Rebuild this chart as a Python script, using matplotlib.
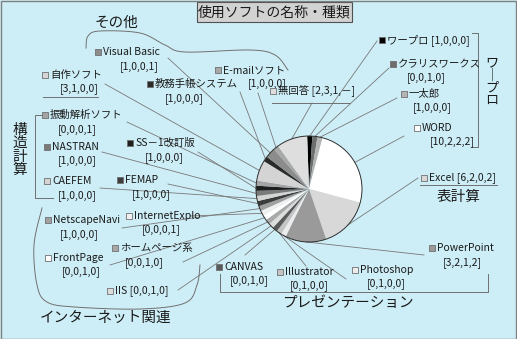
import numpy as np
import matplotlib
matplotlib.use("Agg")
import matplotlib.pyplot as plt
from matplotlib.patches import Rectangle, Circle

plt.rcParams['font.family'] = ['Noto Sans CJK JP', 'DejaVu Sans']

# ---------------- data ----------------
names = ['ワープロ', 'クラリスワークス', '一太郎', 'WORD', 'Excel', 'PowerPoint',
         'Photoshop', 'Illustrator', 'CANVAS', 'IIS', 'ホームページ系', 'FrontPage',
         'InternetExplo', 'NetscapeNavi', 'FEMAP', 'CAEFEM', 'NASTRAN', 'SS－1改訂版',
         '振動解析ソフト', '自作ソフト', '教務手帳システム', 'Visual Basic', 'E-mailソフト', '無回答']
breakdown = [[1, 0, 0, 0], [0, 0, 1, 0], [1, 0, 0, 0], [10, 2, 2, 2], [6, 2, 0, 2], [3, 2, 1, 2],
             [0, 1, 0, 0], [0, 1, 0, 0], [0, 0, 1, 0], [0, 0, 1, 0], [0, 0, 1, 0], [0, 0, 1, 0],
             [0, 0, 0, 1], [1, 0, 0, 0], [1, 0, 0, 0], [1, 0, 0, 0], [1, 0, 0, 0], [1, 0, 0, 0],
             [0, 0, 0, 1], [3, 1, 0, 0], [1, 0, 0, 0], [1, 0, 0, 1], [1, 0, 0, 0], [2, 3, 1, None]]
title = '使用ソフトの名称・種類'
groups = ['その他', 'ワープロ', '表計算', '構造計算', 'インターネット関連', 'プレゼンテーション']

# ---------------- styles ----------------
colors = ['#000000', '#6e6e6e', '#b4b4b4', '#ffffff', '#d8d8d8', '#9a9a9a',
          '#ececec', '#c4c4c4', '#5a5a5a', '#dcdcdc', '#a8a8a8', '#ffffff',
          '#f0f0f0', '#a0a0a0', '#3c3c3c', '#d4d4d4', '#7a7a7a', '#1e1e1e',
          '#a4a4a4', '#d4d4d4', '#2a2a2a', '#8c8c8c', '#a8a8a8', '#dedede']

W, H = 517, 339
BG = '#ceeef7'

def fmt(b):
    return '[' + ','.join('－' if v is None else str(v) for v in b) + ']'

values = [sum(v for v in b if v is not None) for b in breakdown]

# layout (image pixel coords): marker pos, value text pos (None => inline), leader start
layout = {
    'ワープロ':        ((382, 40), None, (377, 41)),
    'クラリスワークス': ((393, 64), (407, 78), (389, 68)),
    '一太郎':          ((404, 94), (413, 108), (397, 98)),
    'WORD':            ((417, 128), (430, 142), (404, 136)),
    'Excel':           ((424, 178), None, (418, 178)),
    'PowerPoint':      ((432, 248), (443, 263), (424, 255)),
    'Photoshop':       ((355, 270), (367, 284), (346, 279)),
    'Illustrator':     ((280, 272), (290, 286), (306, 266)),
    'CANVAS':          ((219, 267), (230, 281), (245, 255)),
    'IIS':             ((110, 291), None, (178, 290)),
    'ホームページ系':   ((115, 248), (125, 263), (183, 262)),
    'FrontPage':       ((48, 258), (62, 272), (110, 265)),
    'InternetExplo':   ((129, 216), (142, 230), (190, 216)),
    'NetscapeNavi':    ((48, 220), (60, 235), (122, 228)),
    'FEMAP':           ((120, 180), (132, 195), (168, 184)),
    'CAEFEM':          ((47, 181), (58, 196), (100, 188)),
    'NASTRAN':         ((47, 147), (58, 161), (102, 152)),
    'SS－1改訂版':      ((130, 143), (145, 158), (198, 152)),
    '振動解析ソフト':   ((45, 115), (58, 130), (127, 122)),
    '自作ソフト':       ((45, 75), (60, 89), (105, 84)),
    '教務手帳システム': ((150, 84), (165, 99), (240, 92)),
    'Visual Basic':    ((98, 52), (120, 67), (168, 58)),
    'E-mailソフト':     ((218, 70), (248, 84), (258, 93)),
    '無回答':          ((273, 91), None, (312, 103)),
}

fig = plt.figure(figsize=(W / 100, H / 100), dpi=100, facecolor=BG)
ax = fig.add_axes([0, 0, 1, 1])
ax.set_facecolor(BG)

def P(x, y):
    return (x, H - y)

cx, cy, R = 309, 189, 53
wedges, _ = ax.pie(values, colors=colors, startangle=92, counterclock=False,
                   center=P(cx, cy), radius=R, frame=True,
                   wedgeprops=dict(edgecolor='none', linewidth=0))
ax.add_patch(Circle(P(cx, cy), R, fill=False, edgecolor='#303030', lw=0.7, zorder=3))

TXT = '#1a1a1a'
LC = '#787878'
fs = 7.5
for name, b, col, w in zip(names, breakdown, colors, wedges):
    (mx, my), vpos, (sx, sy) = layout[name]
    ax.scatter(*P(mx, my), marker='s', s=22, c=col, edgecolors='#707070', linewidths=0.6, zorder=5)
    if vpos is None:
        ax.text(*P(mx + 5, my), f'{name} {fmt(b)}', fontsize=fs, color=TXT, va='center', ha='left')
    else:
        ax.text(*P(mx + 5, my), name, fontsize=fs, color=TXT, va='center', ha='left')
        ax.text(*P(*vpos), fmt(b), fontsize=fs, color=TXT, va='center', ha='left')
    mid = np.deg2rad((w.theta1 + w.theta2) / 2)
    ex, ey = w.center[0] + w.r * np.cos(mid), w.center[1] + w.r * np.sin(mid)
    ax.plot([sx, ex], [H - sy, ey], color=LC, lw=0.6, zorder=2)

# title box
ax.add_patch(Rectangle(P(197, 22), 155, 20, facecolor='#d2d2d2', edgecolor='#505050', lw=0.8))
ax.text(*P(274.5, 12.5), title, fontsize=10, color=TXT, ha='center', va='center')

# group labels
gfs = 10.5
ax.text(*P(116, 23), groups[0], fontsize=gfs, color=TXT, ha='center', va='center')
ax.text(*P(492, 82), '\n'.join(['ワ', '｜', 'プ', 'ロ']), fontsize=9.5, color=TXT,
        ha='center', va='center', linespacing=0.95)
ax.text(*P(459, 197), groups[2], fontsize=gfs, color=TXT, ha='center', va='center')
ax.text(*P(20, 150), '\n'.join(list(groups[3])), fontsize=gfs, color=TXT,
        ha='center', va='center', linespacing=0.95)
ax.text(*P(106, 318), groups[4], fontsize=gfs, color=TXT, ha='center', va='center')
ax.text(*P(348, 303), groups[5], fontsize=gfs, color=TXT, ha='center', va='center')

def poly(pts, smooth=False):
    pts = np.array(pts, float)
    if smooth:
        out = []
        p = np.vstack([pts[0], pts, pts[-1]])
        for i in range(1, len(p) - 2):
            p0, p1, p2, p3 = p[i - 1], p[i], p[i + 1], p[i + 2]
            for t in np.linspace(0, 1, 12):
                out.append(0.5 * ((2 * p1) + (-p0 + p2) * t + (2 * p0 - 5 * p1 + 4 * p2 - p3) * t ** 2
                                  + (-p0 + 3 * p1 - 3 * p2 + p3) * t ** 3))
        pts = np.array(out)
    ax.plot(pts[:, 0], H - pts[:, 1], color='#707070', lw=0.7, zorder=2)

poly([(86, 48), (88, 36), (100, 31), (140, 33), (165, 45), (185, 52), (250, 50), (275, 55), (288, 70)], smooth=True)
poly([(42, 208), (34, 245), (37, 285), (47, 302), (75, 307), (140, 309), (185, 303), (197, 285), (200, 265)], smooth=True)
poly([(43, 97), (98, 97)])
poly([(272, 103), (350, 103)])
poly([(45, 115), (35, 115), (35, 198), (53, 198)])
poly([(472, 33), (478, 33), (478, 147), (472, 147)])
poly([(420, 185), (497, 185)])
poly([(220, 274), (220, 292), (488, 292), (488, 274)])

ax.add_patch(Rectangle((0.5, 0.5), W - 1.5, H - 1.5, fill=False, edgecolor='#808080', lw=1.0))

ax.set_xlim(0, W)
ax.set_ylim(0, H)
ax.set_aspect('auto')
ax.axis('off')
fig.savefig('out.png', dpi=100, facecolor=BG)
